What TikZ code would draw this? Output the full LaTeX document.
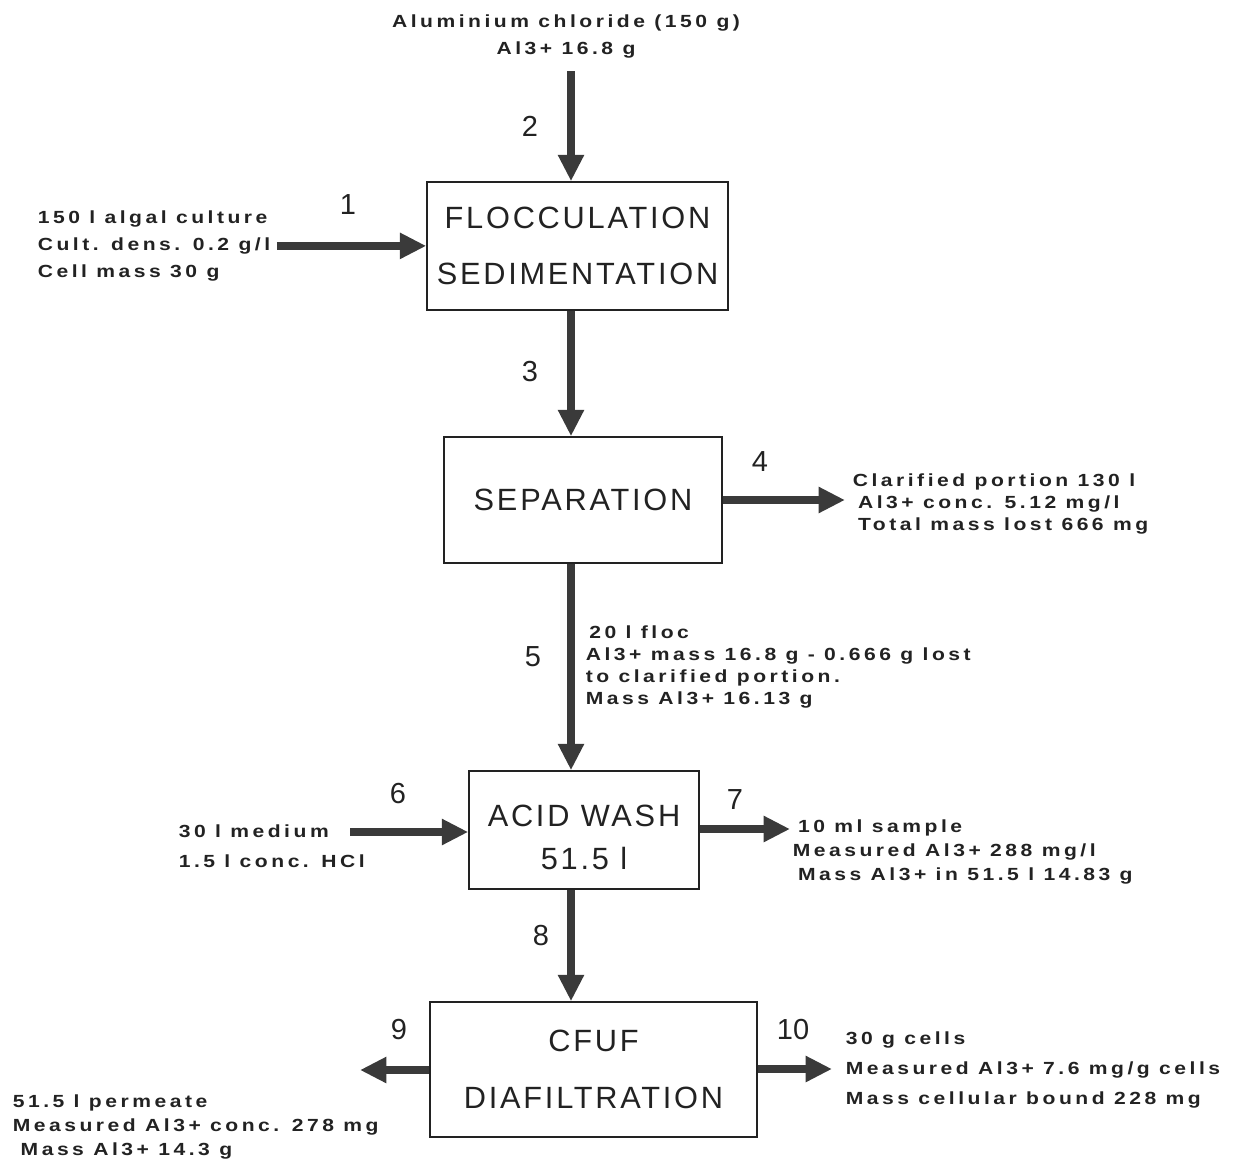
\documentclass[tikz,border=0pt]{standalone}
\usepackage{fontspec}
\setmainfont{Liberation Sans}
\newfontfamily\notefont[LetterSpace=20, FakeStretch=1.2]{Liberation Sans}
\newfontfamily\boxfont[LetterSpace=9]{Liberation Sans}
\usetikzlibrary{arrows.meta, positioning}
\definecolor{cink}{HTML}{222222}
\definecolor{cshaft}{HTML}{3A3A3A}
\newcommand\dropline[1]{\raisebox{-4pt}[\height][\depth]{#1}}
\tikzset{
  every picture/.style={line width=0.9pt},
  stage/.style={draw=cink, text=cink, align=center, inner sep=0pt, font=\boxfont\fontsize{17.5}{#1}\selectfont},
  stage/.default=32,
  flow/.style={-{Triangle[length=15pt, width=14pt]}, draw=cshaft, line width=4.5pt},
  num/.style={font=\fontsize{16.5}{18}\selectfont, text=cink},
  note/.style={font=\notefont\bfseries\fontsize{10}{#1}\selectfont, text=cink, align=left, inner sep=0pt, anchor=north west},
  note/.default=15,
}

\begin{document}
\begin{tikzpicture}[x=0.02cm, y=-0.02cm]
  \useasboundingbox (0,0) rectangle (1233,1159);
  \coordinate (spine) at (571,0);
  % process stages
  \node[stage, minimum width=6.02cm, minimum height=2.56cm] (floc) at (577.5,246) {FLOCCULATION\\SEDIMENTATION};
  \node[stage, minimum width=5.56cm, minimum height=2.52cm] (sep) at (583,500) {SEPARATION};
  \node[stage=24.5, minimum width=4.6cm, minimum height=2.36cm] (acid) at (584,830) {\dropline{ACID WASH}\\\dropline{51.5 l}};
  \node[stage, minimum width=6.54cm, minimum height=2.7cm] (cfuf) at (593.5,1069.5) {CFUF\\DIAFILTRATION};
  % stream data
  \node[note=15.3, anchor=north, align=center] (alcl) at (566,14) {Aluminium chloride (150 g)\\Al3+ 16.8 g};
  \node[note=15.3] (culture) at (37,210) {150 l algal culture\\Cult. dens. 0.2 g/l\\Cell mass 30 g};
  \node[note=12.5] (clar) at (852,473) {Clarified portion 130 l\\\hspace*{3pt}Al3+ conc. 5.12 mg/l\\\hspace*{3pt}Total mass lost 666 mg};
  \node[note=12.5] (flocdata) at (585,625) {\hspace*{2pt}20 l floc\\Al3+ mass 16.8 g - 0.666 g lost\\to clarified portion.\\Mass Al3+ 16.13 g};
  \node[note=17] (medium) at (178,824) {30 l medium\\1.5 l conc. HCl};
  \node[note=13.6] (sample) at (792,819) {\hspace*{3pt}10 ml sample\\Measured Al3+ 288 mg/l\\\hspace*{3pt}Mass Al3+ in 51.5 l 14.83 g};
  \node[note=13.6] (permeate) at (12,1094) {51.5 l permeate\\Measured Al3+ conc. 278 mg\\\hspace*{4.5pt}Mass Al3+ 14.3 g};
  \node[note=17] (cells) at (845,1031) {30 g cells\\Measured Al3+ 7.6 mg/g cells\\Mass cellular bound 228 mg};
  % stream numbers
  \node[num] (n1) at (348,205) {1};
  \node[num] (n2) at (530,126) {2};
  \node[num] (n3) at (530,372) {3};
  \node[num] (n4) at (760,462) {4};
  \node[num] (n5) at (533,657) {5};
  \node[num] (n6) at (398,794) {6};
  \node[num] (n7) at (735,800) {7};
  \node[num] (n8) at (541,936) {8};
  \node[num] (n9) at (399,1030) {9};
  \node[num] (n10) at (793,1030) {10};
  % streams
  \coordinate (in6) at (350,832);
  \coordinate (out7) at (790,829);
  \coordinate (out9) at (360,1070);
  \coordinate (out10) at (832,1069);
  \draw[flow, shorten <=3.4pt] (culture.east) -- (culture.east -| floc.west);
  \draw[flow, shorten <=7pt] (alcl.south -| spine) -- (floc.north -| spine);
  \draw[flow] (floc.south -| spine) -- (sep.north -| spine);
  \draw[flow, shorten >=4pt] (sep.east) -- (sep.east -| clar.west);
  \draw[flow] (sep.south -| spine) -- (acid.north -| spine);
  \draw[flow] (in6) -- (in6 -| acid.west);
  \draw[flow] (out7 -| acid.east) -- (out7);
  \draw[flow] (acid.south -| spine) -- (cfuf.north -| spine);
  \draw[flow] (out9 -| cfuf.west) -- (out9);
  \draw[flow] (out10 -| cfuf.east) -- (out10);
\end{tikzpicture}
\end{document}
